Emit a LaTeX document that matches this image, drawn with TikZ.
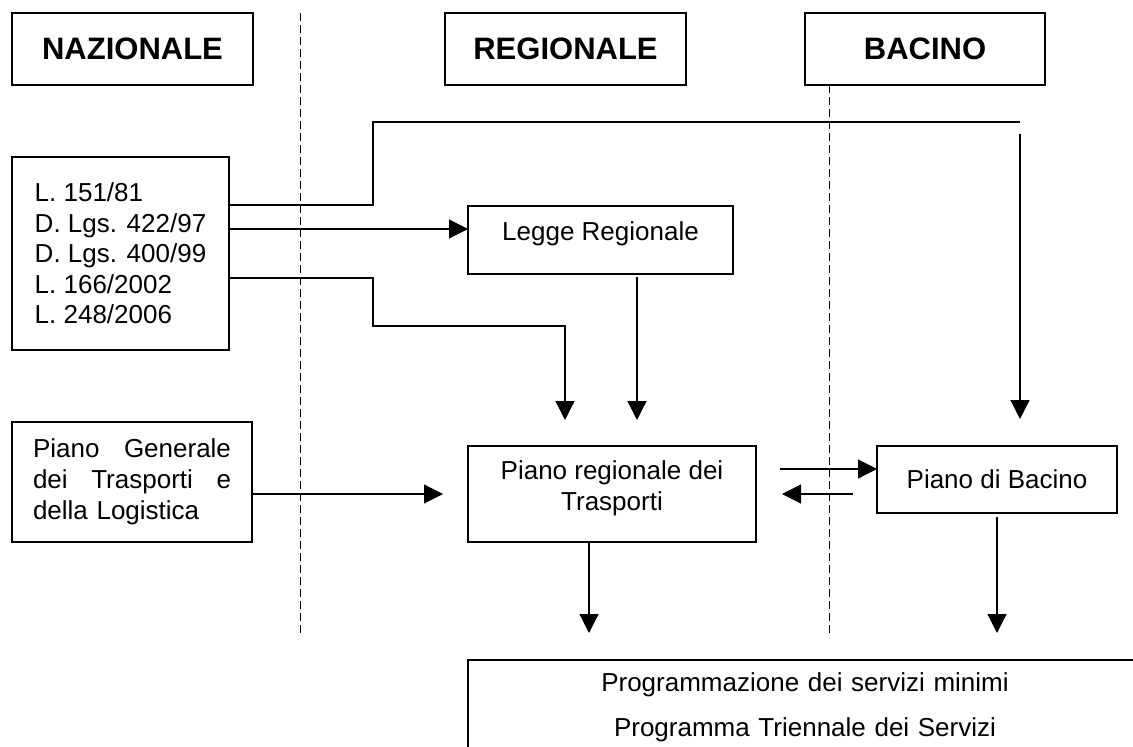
\documentclass[tikz,border=0pt]{standalone}
\usepackage{fontspec}
\setmainfont{Liberation Sans}
\usetikzlibrary{arrows.meta}
\begin{document}
\begin{tikzpicture}[x=1pt,y=-1pt,
  every node/.style={outer sep=0pt},
  box/.style={draw,line width=1.2pt,inner sep=0pt,font=\fontsize{26}{31}\selectfont},
  head/.style={box,anchor=north west,minimum width=241pt,minimum height=72pt,
    font=\bfseries\fontsize{31}{36}\selectfont},
  ln/.style={line width=1.2pt},
  arr/.style={ln,-{Triangle[length=19pt,width=19pt]}},
  sep/.style={line width=1pt,dash pattern=on 8pt off 4pt}]
  \useasboundingbox (0,0) rectangle (1133,747);
  \node[head] (naz) at (12,13) {NAZIONALE};
  \node[head] (reg) at (445,13) {REGIONALE};
  \node[head,minimum width=240pt] (bac) at (805,13) {BACINO};
  \node[box,anchor=north west,minimum width=217pt,minimum height=193pt,align=left,
    font=\fontsize{26}{30.5}\selectfont] (leggi) at (12,157)
    {L. 151/81\\D. Lgs. 422/97\\D. Lgs. 400/99\\L. 166/2002\\L. 248/2006};
  \node[box,anchor=north west,minimum width=265pt,minimum height=68pt,
    text height=19pt,text depth=19pt] (lr) at (468,206) {Legge Regionale};
  \node[box,anchor=north west,minimum width=240pt,minimum height=120pt,text width=198pt,
    inner xsep=21pt,align=left] (pgt) at (12,422)
    {Piano\hfill Generale\\dei\hfill Trasporti\hfill e\\della Logistica};
  \node[box,anchor=north west,minimum width=288pt,minimum height=96pt,align=center] (prt)
    at (468,446) {Piano regionale dei\\Trasporti\rule[-17pt]{0pt}{0pt}};
  \node[box,anchor=north west,minimum width=240pt,minimum height=67pt] (pb)
    at (877,446) {Piano di Bacino};
  \node[box,anchor=north west,minimum width=674pt,text width=640pt,inner xsep=17pt,
    inner ysep=13pt,align=center,font=\fontsize{26}{45}\selectfont] (prog) at (468,660)
    {Programmazione dei servizi minimi\\Programma Triennale dei Servizi};
  \draw [sep] (300,13) -- (300,636);
  \draw [sep] (bac.south -| 829,0) -- (829,636);
  \draw [ln] (leggi.east |- 0,205) -| (373,122) -- (1020,122);
  \draw [arr,shorten >=27pt] (1020,134) -- (1020,0 |- pb.north);
  \draw [arr] (leggi.east |- 0,229) -- (lr.west |- 0,229);
  \draw [arr,shorten >=26pt] (leggi.east |- 0,278) -| (373,326) -| (565,0 |- prt.north);
  \draw [arr,shorten <=3pt,shorten >=26pt] (lr.south -| 637,0) -- (637,0 |- prt.north);
  \draw [arr,shorten >=25pt] (pgt.east |- 0,494) -- (prt.west |- 0,494);
  \draw [arr,shorten <=24pt] (prt.east |- 0,469) -- (pb.west |- 0,469);
  \draw [arr,shorten <=24pt,shorten >=26pt] (pb.west |- 0,494) -- (prt.east |- 0,494);
  \draw [arr,shorten >=27pt] (prt.south -| 589,0) -- (589,0 |- prog.north);
  \draw [arr,shorten <=4pt,shorten >=27pt] (pb.south) -- (pb.south |- prog.north);
\end{tikzpicture}
\end{document}
